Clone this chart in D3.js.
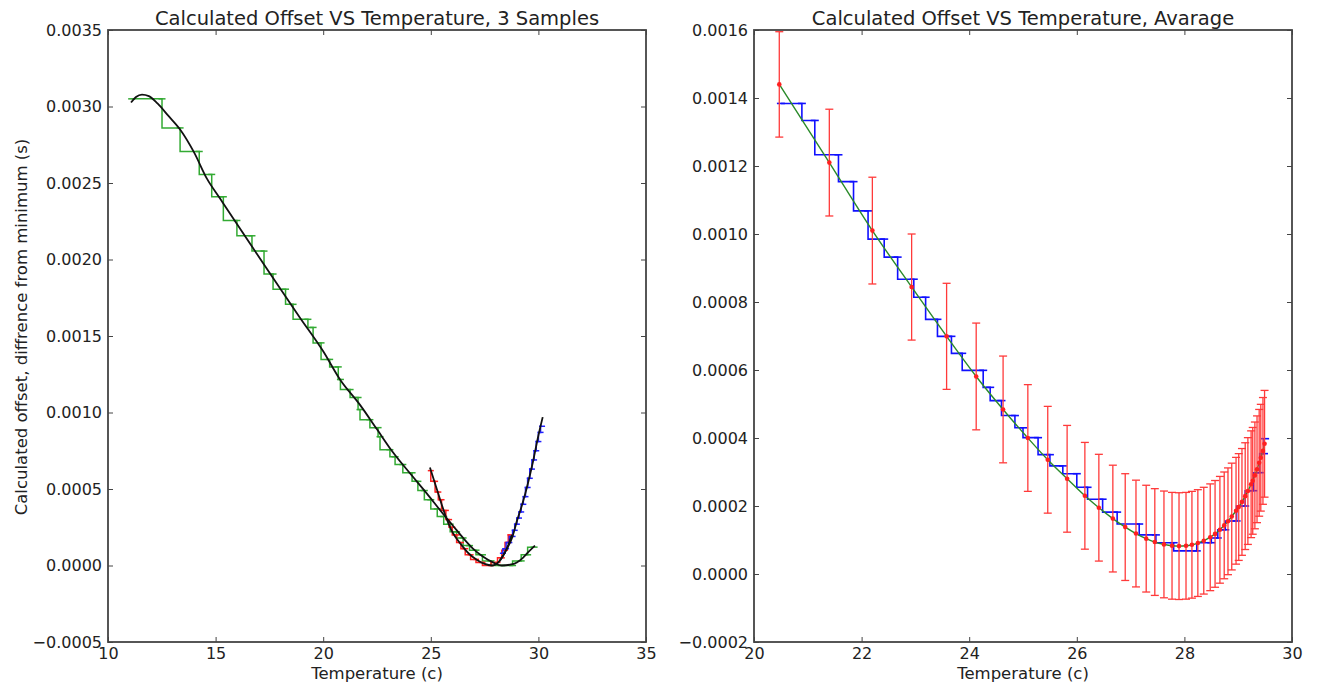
<!DOCTYPE html>
<html>
<head>
<meta charset="utf-8">
<script src="https://cdn.jsdelivr.net/npm/d3@7"></script>
<style>
  body { margin: 0; background: #fff; }
  text { font-family: "DejaVu Sans", sans-serif; fill: #222; }
</style>
</head>
<body>
<div id="chart"></div>
<script>
// ---- left panel: 3 samples (step data + fitted curves) ----
const greenStepT = [11.1, 12.51, 13.35, 14.24, 14.82, 15.36, 15.99, 16.69, 17.25, 17.67, 18.25, 18.6, 19.29, 19.53, 19.9, 20.3, 20.7, 20.8, 21.25, 21.62, 21.71, 22.17, 22.55, 22.64, 23.1, 23.34, 23.7, 24.13, 24.4, 24.7, 25.0, 25.3, 25.6, 25.9, 26.2, 26.5, 26.8, 27.1, 27.4, 27.8, 28.3, 28.8, 29.2, 29.5, 29.8];
const greenStepV = [0.00305, 0.00305, 0.00286, 0.002706, 0.002556, 0.00241, 0.002255, 0.002155, 0.002055, 0.001905, 0.001806, 0.001707, 0.001609, 0.001556, 0.001455, 0.001347, 0.001298, 0.001216, 0.00115, 0.001098, 0.001019, 0.000953, 0.000901, 0.000842, 0.000757, 0.000711, 0.00066, 0.000606, 0.00055, 0.00049, 0.00043, 0.00037, 0.00032, 0.00027, 0.00022, 0.00018, 0.00013, 0.0001, 0.00007, 0.00003, 0.0, 0.0, 0.00003, 0.00007, 0.00012];

const redStepT = [25.0, 25.2, 25.35, 25.5, 25.7, 25.85, 26.0, 26.2, 26.4, 26.6, 26.85, 27.1, 27.4, 27.8, 28.1, 28.3, 28.45, 28.6, 28.7];
const redStepV = [0.00062, 0.00055, 0.00048, 0.00043, 0.00036, 0.0003, 0.00025, 0.0002, 0.00015, 0.00011, 0.00007, 0.00004, 0.00002, 0.0, 0.00002, 0.00005, 0.0001, 0.00015, 0.0002];

const blueStepT = [28.35, 28.5, 28.65, 28.8, 28.9, 29.0, 29.1, 29.2, 29.3, 29.4, 29.5, 29.6, 29.7, 29.8, 29.9, 30.0, 30.1, 30.17];
const blueStepV = [0.00008, 0.00011, 0.00015, 0.00019, 0.00023, 0.00027, 0.00031, 0.00035, 0.0004, 0.00045, 0.00051, 0.00057, 0.00063, 0.00069, 0.00075, 0.00081, 0.00087, 0.00091];

const greenFitT = [11.07, 11.3, 11.58, 11.9, 12.3, 12.8, 13.35, 14.0, 14.59, 15.2, 16.0, 17.0, 18.0, 18.92, 20.0, 20.78, 21.71, 22.5, 23.24, 24.11, 24.82, 25.5, 26.03, 26.5, 26.96, 27.4, 27.89, 28.3, 28.68, 29.0, 29.28, 29.55, 29.84];
const greenFitV = [0.003026, 0.003062, 0.003078, 0.003068, 0.00302, 0.00294, 0.00285, 0.0027, 0.00253, 0.0024, 0.00223, 0.00202, 0.00181, 0.00162, 0.0014, 0.001216, 0.00105, 0.00089, 0.00074, 0.00059, 0.00047, 0.00035, 0.00026, 0.00018, 0.00011, 0.00006, 0.00002, 0.0, 0.000005, 0.00002, 0.00005, 0.00009, 0.00013];

const redFitT = [24.96, 25.3, 25.75, 26.0, 26.36, 26.75, 27.15, 27.5, 27.85, 28.2, 28.5, 28.77];
const redFitV = [0.00064, 0.00049, 0.0003, 0.00022, 0.000146, 0.00008, 0.000036, 0.00001, 0.0, 0.00003, 0.0001, 0.0002];

const blueFitT = [28.2, 28.5, 28.8, 29.0, 29.25, 29.5, 29.75, 30.0, 30.2];
const blueFitV = [0.00003, 0.0001, 0.00019, 0.00029, 0.0004, 0.00053, 0.00068, 0.00085, 0.00097];

const leftXTicks = [10, 15, 20, 25, 30, 35];
const leftYTicks = [-0.0005, 0, 0.0005, 0.001, 0.0015, 0.002, 0.0025, 0.003, 0.0035];

// ---- right panel: average with error bars ----
const avgT = [20.47, 21.4, 22.2, 22.93, 23.58, 24.13, 24.63, 25.09, 25.46, 25.82, 26.15, 26.41, 26.67, 26.9, 27.1, 27.29, 27.45, 27.62, 27.77, 27.9, 28.03, 28.14, 28.25, 28.36, 28.48, 28.57, 28.66, 28.74, 28.81, 28.88, 28.96, 29.01, 29.07, 29.13, 29.18, 29.24, 29.27, 29.31, 29.35, 29.39, 29.42, 29.46, 29.49];
const avgV = [0.00144, 0.00121, 0.00101, 0.000844, 0.000699, 0.000581, 0.000484, 0.0004, 0.000336, 0.00028, 0.00023, 0.000195, 0.000163, 0.000138, 0.000119, 0.000104, 0.000094, 0.000087, 0.000083, 0.000082, 0.000083, 0.000086, 0.000091, 0.000098, 0.000108, 0.000118, 0.00013, 0.000143, 0.000155, 0.000169, 0.000186, 0.000197, 0.000212, 0.000229, 0.000244, 0.000264, 0.000274, 0.00029, 0.000308, 0.000327, 0.000342, 0.000362, 0.000383];
const avgErr = [0.000155, 0.000157, 0.000157, 0.000156, 0.000156, 0.000157, 0.000157, 0.000157, 0.000157, 0.000157, 0.000157, 0.000157, 0.000157, 0.000157, 0.000157, 0.000157, 0.000157, 0.000157, 0.000157, 0.000157, 0.000157, 0.000157, 0.000157, 0.000157, 0.000157, 0.000157, 0.000157, 0.000157, 0.000157, 0.000157, 0.000157, 0.000157, 0.000157, 0.000157, 0.000157, 0.000157, 0.000157, 0.000157, 0.000157, 0.000157, 0.000157, 0.000157, 0.000157];

// blue staircase of the averaged readings (right-end corner points)
const avgStepT = [20.5, 20.89, 21.13, 21.57, 21.85, 22.12, 22.42, 22.67, 22.97, 23.19, 23.41, 23.67, 23.87, 24.26, 24.39, 24.6, 24.85, 25.0, 25.28, 25.5, 25.74, 26.0, 26.2, 26.48, 26.75, 27.16, 27.47, 27.8, 28.23, 28.5, 28.62, 28.76, 28.97, 29.13, 29.28, 29.4, 29.48, 29.5];
const avgStepV = [0.001384, 0.001384, 0.001334, 0.001233, 0.001154, 0.001068, 0.000985, 0.000932, 0.000867, 0.000814, 0.000749, 0.000699, 0.000649, 0.000599, 0.000549, 0.00051, 0.000466, 0.00043, 0.000401, 0.000351, 0.000318, 0.000295, 0.000255, 0.00022, 0.000182, 0.000147, 0.000115, 0.000092, 0.000068, 0.000092, 0.000106, 0.00013, 0.000156, 0.0002, 0.000245, 0.000298, 0.000354, 0.000398];

const rightXTicks = [20, 22, 24, 26, 28, 30];
const rightYTicks = [-0.0002, 0, 0.0002, 0.0004, 0.0006, 0.0008, 0.001, 0.0012, 0.0014, 0.0016];

const width = 1318, height = 685;
const plotTop = 30, plotBottom = 642;
const fmt = d => d3.format(".4f")(d).replace("-", "\u2212");
const zip = (a, b) => a.map((v, i) => [v, b[i]]);

const svg = d3.select("#chart").append("svg")
  .attr("width", width).attr("height", height);

// draws frame + inward ticks on all four sides
function drawFrame(g, x, y, xTicks, yTicks, title) {
  const [x0, x1] = x.range();
  g.append("g").attr("transform", `translate(0,${plotBottom})`)
    .call(d3.axisBottom(x).tickValues(xTicks).tickSize(-5).tickSizeOuter(0).tickPadding(6).tickFormat(d3.format("d")));
  g.append("g").attr("transform", `translate(0,${plotTop})`)
    .call(d3.axisTop(x).tickValues(xTicks).tickSize(-5).tickSizeOuter(0).tickFormat(""));
  g.append("g").attr("transform", `translate(${x0},0)`)
    .call(d3.axisLeft(y).tickValues(yTicks).tickSize(-5).tickSizeOuter(0).tickPadding(6).tickFormat(fmt));
  g.append("g").attr("transform", `translate(${x1},0)`)
    .call(d3.axisRight(y).tickValues(yTicks).tickSize(-5).tickSizeOuter(0).tickFormat(""));
  g.selectAll(".domain").remove();
  g.selectAll(".tick line").attr("stroke", "#444").attr("stroke-width", 1);
  g.selectAll(".tick text").attr("font-size", 16).attr("fill", "#222")
    .style("font-family", '"DejaVu Sans", sans-serif');
  g.append("rect")
    .attr("x", x0).attr("y", plotTop).attr("width", x1 - x0).attr("height", plotBottom - plotTop)
    .attr("fill", "none").attr("stroke", "#444").attr("stroke-width", 1.8);
  g.append("text")
    .attr("x", (x0 + x1) / 2).attr("y", 25)
    .attr("text-anchor", "middle").attr("font-size", 19.5)
    .text(title);
  g.append("text")
    .attr("x", (x0 + x1) / 2).attr("y", 679)
    .attr("text-anchor", "middle").attr("font-size", 16.5)
    .text("Temperature (c)");
}

function drawSteps(g, x, y, pts, color, lw, mw) {
  g.append("path")
    .datum(pts)
    .attr("fill", "none").attr("stroke", color).attr("stroke-width", lw)
    .attr("d", d3.line().x(d => x(d[0])).y(d => y(d[1])).curve(d3.curveStepBefore));
  g.append("g").selectAll("line").data(pts).join("line")
    .attr("x1", d => x(d[0]) - mw).attr("x2", d => x(d[0]) + mw)
    .attr("y1", d => y(d[1])).attr("y2", d => y(d[1]))
    .attr("stroke", color).attr("stroke-width", lw);
}

function drawFit(g, x, y, pts, color, lw) {
  g.append("path")
    .datum(pts)
    .attr("fill", "none").attr("stroke", color).attr("stroke-width", lw)
    .attr("d", d3.line().x(d => x(d[0])).y(d => y(d[1])).curve(d3.curveMonotoneX));
}

// left panel
const xL = d3.scaleLinear().domain([10, 35]).range([108, 646]);
const yL = d3.scaleLinear().domain([-0.0005, 0.0035]).range([plotBottom, plotTop]);
const left = svg.append("g");
drawFrame(left, xL, yL, leftXTicks, leftYTicks, "Calculated Offset VS Temperature, 3 Samples");

const plotL = left.append("g");
drawSteps(plotL, xL, yL, zip(greenStepT, greenStepV), "#33aa33", 1.5, 3.5);
drawSteps(plotL, xL, yL, zip(redStepT, redStepV), "#ff2020", 1.5, 3);
drawSteps(plotL, xL, yL, zip(blueStepT, blueStepV), "#2020ff", 1.5, 3);
drawFit(plotL, xL, yL, zip(greenFitT, greenFitV), "#111", 1.8);
drawFit(plotL, xL, yL, zip(redFitT, redFitV), "#111", 1.8);
drawFit(plotL, xL, yL, zip(blueFitT, blueFitV), "#111", 1.8);

left.append("text")
  .attr("transform", "translate(27,327) rotate(-90)")
  .attr("text-anchor", "middle").attr("font-size", 16.5)
  .text("Calculated offset, diffrence from minimum (s)");

// right panel
const xR = d3.scaleLinear().domain([20, 30]).range([754, 1292]);
const yR = d3.scaleLinear().domain([-0.0002, 0.0016]).range([plotBottom, plotTop]);
const right = svg.append("g");
drawFrame(right, xR, yR, rightXTicks, rightYTicks, "Calculated Offset VS Temperature, Avarage");

const plotR = right.append("g");
drawSteps(plotR, xR, yR, zip(avgStepT, avgStepV), "#1010ff", 1.6, 4);
drawFit(plotR, xR, yR, zip(avgT, avgV), "#2a8a2a", 1.4);

const errData = avgT.map((t, i) => ({ t, v: avgV[i], e: avgErr[i] }));
const eb = plotR.append("g").attr("stroke", "#ff3a3a").attr("stroke-width", 1.3);
eb.selectAll("line.bar").data(errData).join("line").attr("class", "bar")
  .attr("x1", d => xR(d.t)).attr("x2", d => xR(d.t))
  .attr("y1", d => Math.max(plotTop, yR(d.v + d.e))).attr("y2", d => yR(d.v - d.e));
eb.selectAll("line.capT").data(errData.filter(d => yR(d.v + d.e) > plotTop)).join("line").attr("class", "capT")
  .attr("x1", d => xR(d.t) - 4).attr("x2", d => xR(d.t) + 4)
  .attr("y1", d => yR(d.v + d.e)).attr("y2", d => yR(d.v + d.e));
eb.selectAll("line.capB").data(errData).join("line").attr("class", "capB")
  .attr("x1", d => xR(d.t) - 4).attr("x2", d => xR(d.t) + 4)
  .attr("y1", d => yR(d.v - d.e)).attr("y2", d => yR(d.v - d.e));
plotR.append("g").selectAll("circle").data(errData).join("circle")
  .attr("cx", d => xR(d.t)).attr("cy", d => yR(d.v)).attr("r", 2.3)
  .attr("fill", "#ff2020");
</script>
</body>
</html>
